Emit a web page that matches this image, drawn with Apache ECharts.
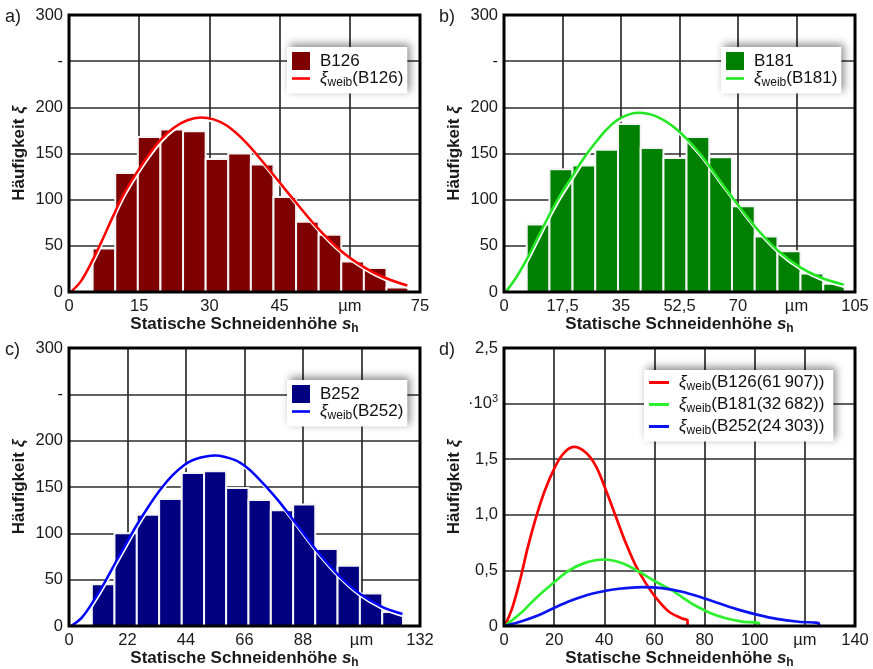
<!DOCTYPE html>
<html><head><meta charset="utf-8">
<script src="https://cdn.jsdelivr.net/npm/echarts@6/dist/echarts.min.js"></script>
<style>html,body{margin:0;padding:0;background:#fff}#c{width:873px;height:669px}</style>
</head><body><div id="c"></div>
<script>
// ---------- data ----------
// histogram bin edges (µm) and counts
const edgesA = [5.05, 9.88, 14.71, 19.54, 24.37, 29.2, 34.03, 38.86, 43.69, 48.52, 53.35, 58.18, 63.01, 67.84, 72.5];
const countsA = [47, 129, 168, 176, 174, 144, 150, 138, 103, 76, 62, 33, 26, 5];
const edgesB = [6.8, 13.6, 20.5, 27.3, 34.1, 40.9, 47.7, 54.6, 61.4, 68.2, 75.0, 81.8, 88.7, 95.5, 101.9];
const countsB = [73, 133, 137, 154, 182, 156, 145, 168, 146, 93, 60, 44, 20, 9];
const edgesC = [8.6, 17.1, 25.5, 33.9, 42.4, 50.8, 59.1, 67.5, 75.9, 84.3, 92.6, 101.0, 109.4, 117.8, 125.6];
const countsC = [45, 100, 120, 137, 165, 167, 149, 136, 125, 131, 83, 65, 35, 15];

// Weibull fit curves
const weibAx = [0.4, 2.6, 5.1, 6.9, 9.5, 11.8, 14.3, 17.1, 19.6, 22.4, 25.3, 28.1, 30.9, 33.8, 38.0, 43.0, 48.0, 53.0, 58.0, 63.0, 67.2, 72.3];
const weibAy = [0, 12, 35, 54, 83, 107, 128, 149, 165, 178, 186, 189, 187, 180, 161, 131, 100, 70, 45, 27, 16, 7];
const weibBx = [0.5, 3.7, 7.2, 9.7, 13.2, 16.7, 20.2, 23.7, 27.2, 30.7, 34.7, 40.2, 45.7, 51.7, 58.6, 64.5, 70.5, 76.5, 82.5, 88.5, 94.5, 101.6];
const weibBy = [0, 16, 38, 56, 81, 104, 124, 144, 161, 176, 188, 194, 190, 176, 150, 121, 92, 65, 43, 27, 16, 8];
const weibCx = [0.8, 4.8, 9.2, 13.6, 17.4, 21.7, 25.5, 29.9, 34.3, 38.7, 43.0, 47.4, 55.0, 62.5, 66.9, 71.3, 78.8, 86.3, 93.8, 101.3, 108.8, 117.5, 125.4];
const weibCy = [0, 9, 27, 48, 68, 90, 109, 129, 147, 162, 173, 180, 184, 179, 171, 159, 135, 107, 79, 55, 36, 21, 13];

// panel d (·10^3)
const dRedX = [0.3, 3.4, 6.8, 9.5, 12.8, 16.0, 19.3, 23.3, 27.9, 32.6, 36.6, 40.5, 45.0, 48.5, 52.4, 56.4, 60.4, 65.7, 71.0, 73.2, 73.2];
const dRedY = [0, 0.17, 0.45, 0.71, 0.98, 1.2, 1.38, 1.54, 1.61, 1.56, 1.44, 1.23, 0.96, 0.75, 0.55, 0.39, 0.26, 0.13, 0.068, 0.05, 0];
const dGreenX = [0.3, 7.4, 12.7, 19.3, 26.0, 32.6, 39.9, 47.2, 53.8, 60.4, 67.0, 71.0, 75.0, 82.0, 88.5, 95.0, 101.7, 101.7];
const dGreenY = [0, 0.13, 0.25, 0.38, 0.50, 0.57, 0.598, 0.565, 0.49, 0.40, 0.32, 0.26, 0.20, 0.12, 0.07, 0.04, 0.024, 0];
const dBlueX = [0.3, 7.4, 12.7, 19.3, 26.0, 32.6, 39.2, 45.8, 55.1, 63.0, 71.0, 78.8, 86.3, 93.8, 101.3, 108.8, 117.5, 125.6, 125.6];
const dBlueY = [0, 0.045, 0.087, 0.155, 0.222, 0.275, 0.31, 0.335, 0.35, 0.34, 0.308, 0.257, 0.2, 0.145, 0.1, 0.064, 0.038, 0.024, 0];

// tick labels
const xLabelsA = ['0', '15', '30', '45', 'µm', '75'];
const xLabelsB = ['0', '17,5', '35', '52,5', '70', 'µm', '105'];
const xLabelsC = ['0', '22', '44', '66', '88', 'µm', '132'];
const xLabelsD = ['0', '20', '40', '60', '80', '100', 'µm', '140'];
const yLabelsHist = ['0', '50', '100', '150', '200', '-', '300'];
const yLabelsD = ['0', '0,5', '1,0', '1,5', '{n|·10}{sup|3}', '2,5'];

const names = ['B126', 'B181', 'B252'];
const dNames = ['B126(61\u2009907)', 'B181(32\u2009682)', 'B252(24\u2009303)'];

// ---------- chart ----------
const FONT = '"Liberation Sans", Arial, Helvetica, sans-serif';
const TXT = '#1a1a1a';
const barColors = ['#7f0000', '#008000', '#000080'];
const lineColors = ['#ff0000', '#22e622', '#0000ff'];

const gridBoxes = [
  {left: 69, top: 15, width: 351, height: 277},
  {left: 504, top: 15, width: 351, height: 277},
  {left: 69, top: 348, width: 351, height: 278},
  {left: 504, top: 348, width: 351, height: 278}
];

function zip(xs, ys) { return xs.map((x, i) => [x, ys[i]]); }
function hist(edges, counts) { return counts.map((c, i) => [edges[i], edges[i + 1], c]); }

const nameRich = {
  b: {fontSize: 17, fontWeight: 'bold', fontFamily: FONT, color: TXT, lineHeight: 20, verticalAlign: 'middle'},
  i: {fontSize: 17, fontWeight: 'bold', fontStyle: 'italic', fontFamily: FONT, color: TXT, lineHeight: 20, verticalAlign: 'middle'},
  sub: {fontSize: 12, fontWeight: 'bold', fontFamily: FONT, color: TXT, lineHeight: 11, verticalAlign: 'bottom'}
};

function xAxis(idx, labels, max, step) {
  return {
    gridIndex: idx, type: 'value', min: 0, max: max, interval: step,
    axisLine: {show: false}, axisTick: {show: false},
    splitLine: {show: true, lineStyle: {color: '#2c2c2c', width: 1.7}},
    axisLabel: {
      margin: 6, fontSize: 16.5, color: TXT, fontFamily: FONT, showMinLabel: true, showMaxLabel: true,
      formatter: v => labels[Math.round(v / step)]
    },
    name: '{b|Statische Schneidenhöhe }{i|s}{sub|h}',
    nameLocation: 'middle', nameGap: 21,
    nameTextStyle: {rich: nameRich}
  };
}
function yAxis(idx, labels, max, step) {
  return {
    gridIndex: idx, type: 'value', min: 0, max: max, interval: step,
    axisLine: {show: false}, axisTick: {show: false},
    splitLine: {show: true, lineStyle: {color: '#2c2c2c', width: 1.7}},
    axisLabel: {
      margin: 6, fontSize: 16.5, color: TXT, fontFamily: FONT, showMinLabel: true, showMaxLabel: true,
      formatter: v => labels[Math.round(v / step)],
      rich: {
        n: {fontSize: 16.5, color: TXT, fontFamily: FONT, lineHeight: 20, verticalAlign: 'middle'},
        sup: {fontSize: 11, color: TXT, fontFamily: FONT, lineHeight: 10, verticalAlign: 'top'}
      }
    },
    name: '{b|Häufigkeit }{i|ξ}',
    nameLocation: 'middle', nameGap: 40,
    nameTextStyle: {rich: nameRich}
  };
}

const legRich = {
  n: {fontSize: 17, fontFamily: FONT, color: '#111', lineHeight: 20, verticalAlign: 'middle'},
  g: {fontSize: 17, fontFamily: FONT, fontStyle: 'italic', color: '#111', lineHeight: 20, verticalAlign: 'middle'},
  s: {fontSize: 12, fontFamily: FONT, color: '#111', lineHeight: 11, verticalAlign: 'bottom'},
  sp: {width: 5}
};
function legFormatter(name) {
  if (name.indexOf('w:') === 0) {
    return '{sp| }{g|ξ}{s|weib}{n|(' + name.slice(2) + ')}';
  }
  return '{sp| }{n|' + name + '}';
}
const lineIcon = 'path://M0,0H18V2.6H0Z';
const lineIconD = 'path://M0,0H20V3H0Z';

const legendBase = {
  orient: 'vertical', itemWidth: 18, itemHeight: 18, itemGap: 0,
  backgroundColor: '#ffffff', borderWidth: 0,
  shadowBlur: 8, shadowColor: 'rgba(0,0,0,0.45)', shadowOffsetX: 3, shadowOffsetY: -3,
  selectedMode: false,
  formatter: legFormatter,
  textStyle: {fontSize: 17, fontFamily: FONT, color: '#111', rich: legRich}
};
const legendPos = [[287, 47], [721, 47], [287, 380]];

const series = [];
const legends = [];
const histEdges = [edgesA, edgesB, edgesC];
const histCounts = [countsA, countsB, countsC];
const curvesX = [weibAx, weibBx, weibCx];
const curvesY = [weibAy, weibBy, weibCy];

for (let k = 0; k < 3; k++) {
  series.push({
    type: 'custom', name: names[k], xAxisIndex: k, yAxisIndex: k,
    data: hist(histEdges[k], histCounts[k]),
    encode: {x: [0, 1], y: 2},
    itemStyle: {color: barColors[k]},
    silent: true,
    renderItem: (params, api) => {
      const tl = api.coord([api.value(0), api.value(2)]);
      const br = api.coord([api.value(1), 0]);
      return {
        type: 'rect',
        shape: {x: tl[0], y: tl[1], width: br[0] - tl[0], height: br[1] - tl[1]},
        style: {fill: api.visual('color'), stroke: '#f4f4f4', lineWidth: 2}
      };
    }
  });
  series.push({
    type: 'line', name: 'w:' + names[k], xAxisIndex: k, yAxisIndex: k,
    data: zip(curvesX[k], curvesY[k]),
    symbol: 'none', showSymbol: false, smooth: 0.35, silent: true, z: 3,
    itemStyle: {color: lineColors[k]},
    lineStyle: {color: lineColors[k], width: 2.5, shadowColor: '#ffffff', shadowBlur: 0.5, shadowOffsetX: 0.6, shadowOffsetY: 2.2}
  });
  legends.push(Object.assign({}, legendBase, {
    left: legendPos[k][0], top: legendPos[k][1], padding: [5, 4, 5, 5],
    data: [
      {name: names[k], icon: 'rect', itemStyle: {color: barColors[k]}},
      {name: 'w:' + names[k], icon: lineIcon, itemStyle: {color: lineColors[k]}}
    ]
  }));
}

const dX = [dRedX, dGreenX, dBlueX];
const dY = [dRedY, dGreenY, dBlueY];
const dColors = ['#ff0000', '#2ef02e', '#0a14f0'];
for (let k = 0; k < 3; k++) {
  series.push({
    type: 'line', name: 'w:' + dNames[k], xAxisIndex: 3, yAxisIndex: 3,
    data: zip(dX[k], dY[k]),
    symbol: 'none', showSymbol: false, smooth: 0.35, silent: true, z: 3,
    itemStyle: {color: dColors[k]},
    lineStyle: {color: dColors[k], width: 2.7}
  });
}
legends.push(Object.assign({}, legendBase, {
  left: 644, top: 370, padding: [4, 9, 5, 5], itemWidth: 20, itemGap: 3.5,
  data: dNames.map((n, k) => ({name: 'w:' + n, icon: lineIconD, itemStyle: {color: dColors[k]}}))
}));

const option = {
  animation: false,
  backgroundColor: '#ffffff',
  textStyle: {fontFamily: FONT},
  title: [
    {text: 'a)', left: 0, top: 3},
    {text: 'b)', left: 434, top: 3},
    {text: 'c)', left: 0, top: 336},
    {text: 'd)', left: 434, top: 336}
  ].map(t => Object.assign(t, {textStyle: {fontSize: 18, fontWeight: 'normal', color: TXT, fontFamily: FONT}})),
  grid: gridBoxes.map(g => Object.assign({}, g, {
    show: true, z: 10, backgroundColor: 'transparent', borderColor: '#000', borderWidth: 3,
    containLabel: false, outerBoundsMode: 'none'
  })),
  xAxis: [
    xAxis(0, xLabelsA, 75, 15),
    xAxis(1, xLabelsB, 105, 17.5),
    xAxis(2, xLabelsC, 132, 22),
    xAxis(3, xLabelsD, 140, 20)
  ],
  yAxis: [
    yAxis(0, yLabelsHist, 300, 50),
    yAxis(1, yLabelsHist, 300, 50),
    yAxis(2, yLabelsHist, 300, 50),
    yAxis(3, yLabelsD, 2.5, 0.5)
  ],
  legend: legends,
  series: series
};

const chart = echarts.init(document.getElementById('c'), null, {renderer: 'canvas'});
chart.setOption(option);
</script></body></html>
